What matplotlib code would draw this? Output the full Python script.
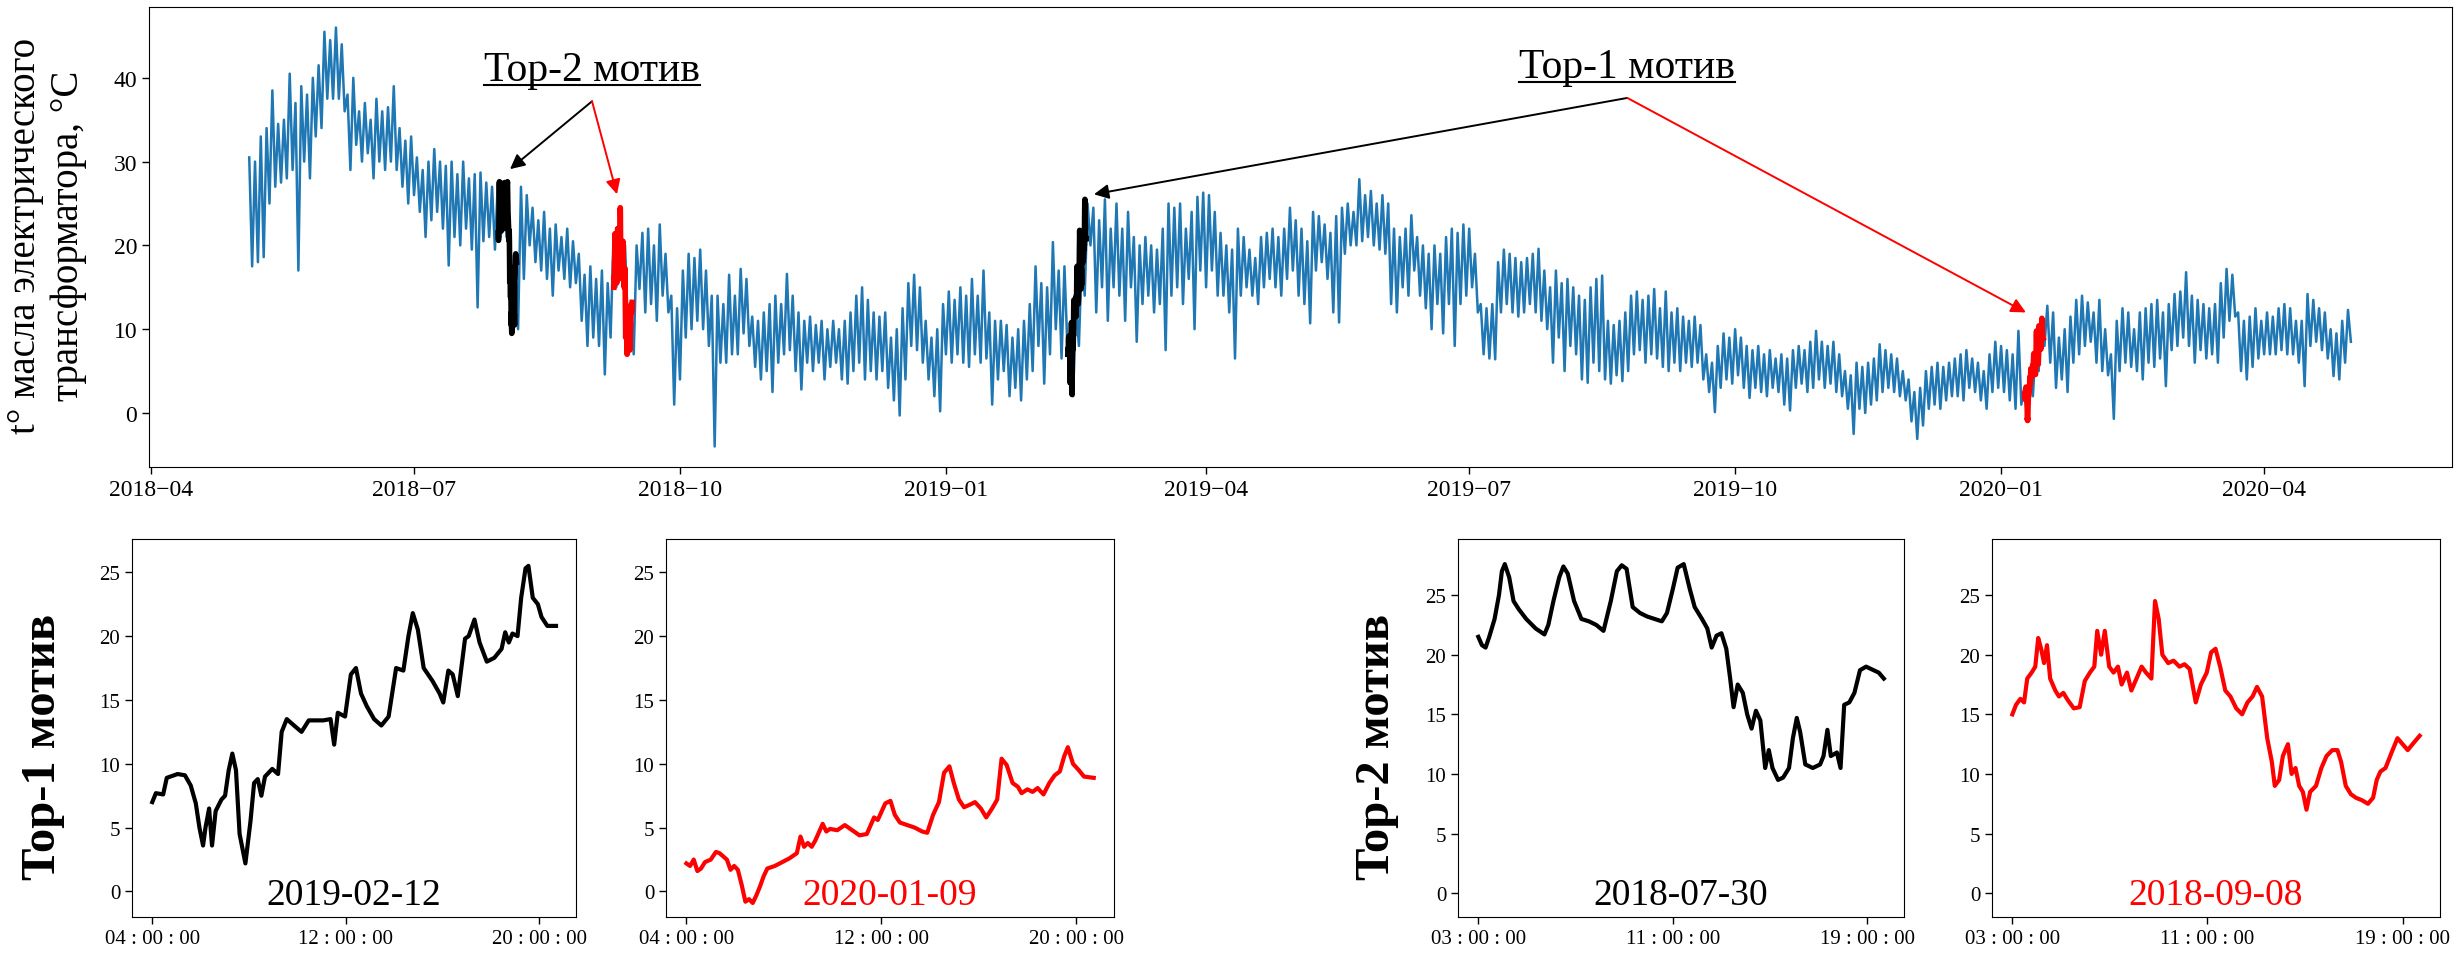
import numpy as np
import pandas as pd
import matplotlib
matplotlib.use("Agg")
import matplotlib.pyplot as plt
import matplotlib.dates as mdates
from matplotlib.ticker import FuncFormatter
from matplotlib.lines import Line2D
from matplotlib.transforms import IdentityTransform

plt.rcParams["font.family"] = ["Liberation Serif", "DejaVu Serif"]

# main series: 2-day bins starting 2018-05-05, upper and lower envelope
series_start = pd.Timestamp("2018-05-05")
bin_days = 2
temp_hi = [
    30.5, 30, 33, 34, 38.5, 34.5, 35, 40.5, 37, 39,
    38, 40, 41.5, 45.5, 44.5, 46, 44, 38, 40, 36,
    37, 35, 37.5, 36, 36.5, 39, 34, 32.5, 33, 30.5,
    29, 30, 31.5, 30, 29.5, 30, 28.5, 30, 28, 28.5,
    28.7, 27.5, 27, 27.5, 27.5, 22, 19, 27, 26, 24.5,
    23, 24, 22, 22.5, 21, 22, 20.5, 19, 16.5, 17.5,
    16, 17, 15.5, 21, 22, 20, 13, 20, 21.5, 22,
    20, 22.5, 19, 14, 12.5, 17, 19, 18.5, 19.5, 17,
    14, 14, 13, 16.5, 14, 17.2, 16, 11.5, 11, 12,
    13, 14, 13, 16.6, 14, 12, 11, 11.5, 10.5, 11,
    10, 11, 10, 11, 12, 14, 15, 13.5, 12, 11.5,
    12, 9, 10, 12.5, 15.5, 16.5, 15, 11, 9, 10,
    13, 14.5, 13.5, 15, 14, 16, 14, 17, 12, 11,
    11, 10.5, 9, 10, 11, 13, 17.5, 15.5, 15, 20.4,
    17, 17.5, 7, 13, 19, 25, 24.5, 23, 25.5, 22,
    25, 22, 24, 21, 20, 21, 20, 19.5, 22, 25,
    24.5, 25, 22, 24, 25.8, 26.3, 26, 24, 21.5, 20,
    19.5, 22, 21, 19.5, 18.5, 21, 21.5, 22, 21, 22,
    24.5, 23, 22, 20.5, 24, 23.5, 22.5, 21.5, 23.5, 24.5,
    25, 24, 27.9, 26, 26.5, 25, 26, 25, 22, 21,
    22, 23.6, 21, 20, 19, 20, 19, 21, 22, 21.5,
    22.5, 22, 19, 13, 12.5, 13, 18, 19.5, 19, 18.5,
    18, 18.5, 19, 19.6, 17, 15, 17, 15.5, 16, 15,
    14, 13.5, 15, 16, 16.4, 11, 10.5, 11, 12, 14,
    14.5, 13.5, 14, 14.8, 12.5, 14.5, 12, 12.5, 11.5, 11,
    11.5, 10.5, 7, 6, 8, 9.5, 9, 10, 9, 8,
    7.5, 8, 7, 7.5, 6.5, 7, 6.5, 7.5, 8, 7.5,
    8.5, 9.8, 8.5, 8, 8.5, 7, 5, 4.5, 6, 5.5,
    6, 6.5, 8.2, 7.5, 7, 6.5, 5, 4, 2.5, 3,
    5, 5.5, 6, 5.5, 6, 6.5, 7, 7.5, 6.5, 6,
    5, 7, 8.5, 8, 7.5, 7, 9.8, 3, 5, 8,
    11, 12.8, 12, 9, 10, 11.5, 13.5, 14, 13.2, 12,
    13.5, 10, 7, 11, 12.5, 12, 10, 12, 12.5, 13,
    13.5, 12, 13, 14.2, 14.5, 16.8, 14, 13.5, 13, 12.5,
    13, 15.5, 17.2, 16.5, 12, 11, 11.5, 12.5, 11, 12,
    11.5, 12.5, 13, 12.5, 11, 11, 14.2, 13.5, 12.5, 12,
    10, 9.5, 11, 12.3,
]
temp_lo = [
    17.5, 18, 18.6, 25, 27, 27.5, 28, 29, 17, 30,
    28, 33, 34, 37.5, 37.5, 37.5, 36, 29, 32, 30,
    31, 28, 30, 29, 30, 29, 27, 25, 26, 24,
    21, 23, 24, 22, 17.6, 21, 20, 22, 19.5, 12.6,
    20.5, 21, 19.5, 21, 21, 10, 10, 16, 20, 18,
    17, 16, 14, 17, 16, 15, 15.5, 11, 8, 9,
    8, 4.6, 9, 15, 17, 10, 7, 14.8, 12, 13,
    11, 14, 12, 1.0, 4, 9, 10, 11, 10, 8,
    -4.0, 6, 6, 7, 7, 9.5, 8, 5.5, 4, 5,
    2.5, 6, 7, 7.5, 5, 2.8, 6, 5, 6, 4,
    5.5, 6, 4, 3.5, 5, 6, 4, 5, 4, 5,
    3, 1.5, -0.3, 4, 8, 7.5, 6, 4, 2, 0.2,
    7, 6, 7, 6, 5.5, 7, 6, 6.5, 1.0, 4,
    5, 2, 3, 1.5, 4, 5, 8, 3.5, 7, 10,
    6.5, 8, 2, 8, 14, 20, 12, 15, 11, 15,
    14, 11, 15, 8.5, 13, 14, 12, 13, 7.5, 14,
    15, 13, 16, 10, 17, 15, 17, 14, 14, 12,
    6.5, 14, 15, 14, 13, 15, 16, 15, 14, 16,
    17, 14, 13, 10.7, 17, 18, 16, 12, 10.8, 19,
    20, 20, 20.5, 21, 20, 19.5, 19, 13, 12, 15,
    14, 17, 14, 12.5, 10, 13, 9.5, 13, 8, 13,
    14, 15, 12, 7, 6.5, 6.4, 12, 13, 12, 11.5,
    12, 13, 12, 11, 10, 6, 9, 5, 8, 7,
    4, 3.6, 6, 5, 4, 3.5, 4.5, 3.8, 5, 7,
    7.5, 6, 7, 6.5, 5.5, 5, 6, 5, 6, 5.5,
    6, 4, 2.5, 0.1, 3, 4, 3.5, 4.5, 3, 1.8,
    3, 2.5, 2, 3, 2.5, 1.0, 0.3, 3, 3.5, 2.5,
    3, 4, 3, 3.5, 2.5, 2, 0.5, -2.5, 0.5, 0,
    1, 1.5, 2.5, 3, 2.5, 2, 1.5, -1, -3.1, -1.5,
    0.5, 1, 0.5, 1.5, 2, 2, 1.5, 3, 2.5, 1.5,
    0.5, 2.5, 3, 2.5, 1.5, 0.5, 1, -0.5, 2, 5,
    8, 6, 3, 4, 2.5, 6, 7, 8, 8.5, 6,
    5, 4.5, -0.7, 5, 6, 5.5, 5, 4, 6, 5.5,
    6.5, 3.2, 7.5, 8, 9, 8, 6, 7.5, 6.5, 7,
    6, 9, 11, 11.5, 5, 4, 5.5, 6.5, 7, 7,
    7, 7.5, 7, 7, 6, 3.2, 8, 8.5, 7.5, 6.5,
    4.4, 4, 6, 8.5,
]

# motifs (subplot clock hours and values)
top1_a_date = "2019-02-12"
top1_a_hours = [4.00, 4.15, 4.45, 4.60, 5.05, 5.35, 5.59, 5.80, 5.95, 6.10, 6.20, 6.35, 6.47, 6.62, 6.86,
                7.01, 7.16, 7.31, 7.46, 7.61, 7.85, 8.06, 8.21, 8.36, 8.51, 8.66, 8.96, 9.20, 9.35, 9.56,
                9.86, 10.17, 10.47, 11.07, 11.37, 11.52, 11.67, 11.97, 12.21, 12.42, 12.63, 12.87, 13.17,
                13.47, 13.77, 14.08, 14.38, 14.59, 14.77, 14.98, 15.22, 15.58, 15.88, 16.03, 16.24, 16.42,
                16.63, 16.93, 17.08, 17.32, 17.53, 17.83, 18.14, 18.44, 18.59, 18.74, 18.89, 19.10, 19.25,
                19.43, 19.55, 19.73, 19.94, 20.09, 20.33, 20.69]
top1_a_vals = [7.0, 7.7, 7.6, 8.9, 9.2, 9.1, 8.3, 6.9, 5.0, 3.6, 5.0, 6.5, 3.6, 6.3, 7.2,
               7.5, 9.5, 10.8, 9.5, 4.5, 2.2, 5.5, 8.5, 8.8, 7.5, 9.0, 9.6, 9.2, 12.5, 13.5,
               13.0, 12.5, 13.4, 13.4, 13.5, 11.5, 14.0, 13.7, 17.0, 17.5, 15.5, 14.5, 13.5,
               13.0, 13.7, 17.5, 17.3, 20.0, 21.8, 20.5, 17.5, 16.5, 15.5, 14.8, 17.3, 17.0,
               15.3, 19.8, 20.0, 21.3, 19.5, 18.0, 18.3, 19.0, 20.3, 19.5, 20.2, 20.0, 23.0,
               25.3, 25.5, 23.0, 22.5, 21.5, 20.8, 20.8]

top1_b_date = "2020-01-09"
top1_b_hours = [4.00, 4.15, 4.30, 4.45, 4.60, 4.76, 5.00, 5.21, 5.36, 5.66, 5.81, 5.96, 6.11, 6.27, 6.42,
                6.57, 6.72, 6.87, 7.02, 7.17, 7.32, 7.63, 7.93, 8.23, 8.53, 8.68, 8.83, 8.98, 9.14, 9.29,
                9.59, 9.74, 9.89, 10.19, 10.50, 10.80, 11.10, 11.40, 11.70, 11.85, 12.16, 12.37, 12.55,
                12.76, 13.06, 13.37, 13.67, 13.88, 14.12, 14.36, 14.57, 14.79, 14.97, 15.18, 15.39, 15.63,
                15.84, 16.08, 16.30, 16.54, 16.75, 16.93, 17.14, 17.38, 17.60, 17.75, 17.99, 18.20, 18.41,
                18.65, 18.89, 19.11, 19.32, 19.50, 19.65, 19.86, 20.10, 20.31, 20.71]
top1_b_vals = [2.2, 2.0, 2.5, 1.6, 1.8, 2.3, 2.5, 3.1, 3.0, 2.5, 1.7, 2.0, 1.7, 0.5, -0.8,
               -0.6, -0.9, -0.3, 0.4, 1.2, 1.8, 2.0, 2.3, 2.6, 3.0, 4.3, 3.5, 3.8, 3.5, 4.0,
               5.3, 4.7, 4.9, 4.8, 5.2, 4.8, 4.4, 4.5, 5.8, 5.6, 6.9, 7.1, 6.0,
               5.4, 5.2, 5.0, 4.7, 4.6, 6.0, 7.0, 9.3, 9.8, 8.5, 7.2, 6.6, 6.8,
               7.0, 6.5, 5.8, 6.5, 7.2, 10.4, 9.9, 8.5, 8.2, 7.7, 8.0, 7.8, 8.1,
               7.6, 8.5, 9.1, 9.4, 10.6, 11.3, 10.0, 9.5, 9.0, 8.9]

top2_a_date = "2018-07-30"
top2_a_hours = [3.00, 3.15, 3.30, 3.45, 3.67, 3.85, 3.97, 4.09, 4.27, 4.45, 4.67, 4.97, 5.36, 5.72, 5.88,
                6.09, 6.33, 6.50, 6.68, 6.94, 7.24, 7.55, 7.85, 8.15, 8.45, 8.70, 8.90, 9.10, 9.35, 9.65,
                9.95, 10.25, 10.55, 10.76, 11.00, 11.20, 11.45, 11.70, 11.90, 12.20, 12.42, 12.60, 12.80,
                13.00, 13.20, 13.36, 13.50, 13.67, 13.88, 14.06, 14.24, 14.42, 14.60, 14.80, 14.95, 15.10,
                15.33, 15.54, 15.78, 15.94, 16.10, 16.24, 16.45, 16.76, 17.06, 17.20, 17.36, 17.50, 17.75,
                17.90, 18.05, 18.26, 18.47, 18.70, 18.95, 19.26, 19.47, 19.68]
top2_a_vals = [21.5, 20.8, 20.6, 21.5, 23.0, 25.0, 27.0, 27.6, 26.5, 24.5, 23.8, 23.0, 22.2, 21.7, 22.5,
               24.5, 26.5, 27.4, 26.8, 24.5, 23.0, 22.8, 22.5, 22.0, 24.5, 27.0, 27.5, 27.2, 24.0, 23.5,
               23.2, 23.0, 22.8, 23.5, 25.5, 27.3, 27.6, 25.5, 24.0, 23.0, 22.2, 20.6, 21.6,
               21.8, 20.5, 18.0, 15.6, 17.5, 16.8, 15.0, 13.8, 15.3, 14.5, 10.5, 12.0, 10.5,
               9.5, 9.7, 10.5, 13.0, 14.7, 13.5, 10.8, 10.5, 10.8, 11.5, 13.7, 11.5, 11.8,
               10.5, 15.8, 16.0, 16.8, 18.7, 19.0, 18.7, 18.5, 18.0]

top2_b_date = "2018-09-08"
top2_b_hours = [3.00, 3.15, 3.33, 3.48, 3.61, 3.79, 3.94, 4.06, 4.18, 4.30, 4.42, 4.55, 4.76, 4.91, 5.09,
                5.27, 5.52, 5.76, 5.97, 6.18, 6.36, 6.48, 6.64, 6.79, 6.97, 7.15, 7.33, 7.48, 7.70, 7.88,
                8.09, 8.30, 8.48, 8.70, 8.85, 9.00, 9.15, 9.39, 9.61, 9.85, 10.06, 10.27, 10.52, 10.73,
                10.97, 11.15, 11.33, 11.52, 11.73, 11.94, 12.18, 12.42, 12.64, 12.85, 13.03, 13.24, 13.45,
                13.64, 13.76, 13.94, 14.09, 14.30, 14.45, 14.61, 14.76, 14.91, 15.06, 15.21, 15.45, 15.67,
                15.88, 16.12, 16.33, 16.48, 16.67, 16.88, 17.09, 17.33, 17.58, 17.79, 17.94, 18.09, 18.30,
                18.55, 18.79, 19.00, 19.21, 19.45, 19.70]
top2_b_vals = [15.0, 15.8, 16.3, 16.0, 18.0, 18.5, 19.0, 21.4, 20.5, 19.3, 20.8, 18.0, 17.0, 16.5, 16.8,
               16.2, 15.5, 15.6, 17.8, 18.5, 19.0, 22.0, 20.0, 22.0, 19.0, 18.5, 19.0, 17.5, 18.5, 17.0,
               18.0, 19.0, 18.5, 18.0, 24.5, 23.0, 20.0, 19.3, 19.5, 19.0, 19.2, 18.8, 16.0, 17.5,
               18.5, 20.2, 20.5, 19.0, 17.0, 16.5, 15.5, 15.0, 16.0, 16.5, 17.3, 16.5, 13.0,
               11.0, 9.0, 9.5, 11.5, 12.5, 10.0, 10.5, 9.0, 8.5, 7.0, 8.5, 9.0, 10.5,
               11.5, 12.0, 12.0, 11.0, 9.0, 8.3, 8.0, 7.8, 7.5, 8.0, 9.5, 10.2, 10.5,
               11.8, 13.0, 12.5, 12.0, 12.6, 13.2]

top1_ticks = [4, 12, 20]
top2_ticks = [3, 11, 19]
main_yticks = [0, 10, 20, 30, 40]
sub_yticks = [0, 5, 10, 15, 20, 25]

# how wide a motif is drawn on the long time axis (days per subplot hour)
motif_day_scale = 0.38


def motif_dates(date, hours):
    h = np.asarray(hours)
    off = h[0] / 24.0 + (h - h[0]) * motif_day_scale
    return pd.Timestamp(date) + pd.to_timedelta(off, unit="D")


fig = plt.figure(figsize=(24.55, 9.54), dpi=100)

# ---- top panel ----
ax = fig.add_axes([0.0607, 0.5094, 0.9381, 0.4822])
n = len(temp_hi)
k = np.arange(n)
hi_x = series_start + pd.to_timedelta(k * bin_days, unit="D")
lo_x = series_start + pd.to_timedelta(k * bin_days + 1, unit="D")
xs = np.empty(2 * n, dtype=object)
ys = np.empty(2 * n)
xs[0::2] = list(hi_x)
xs[1::2] = list(lo_x)
ys[0::2] = temp_hi
ys[1::2] = temp_lo
ax.plot(list(xs), ys, color="#1f77b4", lw=1.8)

ax.plot(motif_dates(top2_a_date, top2_a_hours), top2_a_vals, color="black", lw=4)
ax.plot(motif_dates(top2_b_date, top2_b_hours), top2_b_vals, color="red", lw=4)
ax.plot(motif_dates(top1_a_date, top1_a_hours), top1_a_vals, color="black", lw=4)
ax.plot(motif_dates(top1_b_date, top1_b_hours), top1_b_vals, color="red", lw=4)

ax.set_xlim(pd.Timestamp("2018-03-31 08:00"), pd.Timestamp("2020-06-05"))
ax.set_ylim(-6.45, 48.45)
ax.xaxis.set_major_locator(mdates.MonthLocator(bymonth=[1, 4, 7, 10]))
ax.xaxis.set_major_formatter(mdates.DateFormatter("%Y\u2212%m"))
ax.set_yticks(main_yticks)
ax.tick_params(labelsize=17, length=5, width=1)

# annotations
labels = [
    ("Top-2 мотив", pd.Timestamp("2018-08-31 14:00"), 39.7,
     (pd.Timestamp("2018-08-31 14:00"), 37.2),
     [(pd.Timestamp("2018-08-03 05:00"), 29.1, "black"),
      (pd.Timestamp("2018-09-09 05:00"), 26.1, "red")]),
    ("Top-1 мотив", pd.Timestamp("2019-08-24 17:00"), 40.1,
     (pd.Timestamp("2019-08-24 17:00"), 37.6),
     [(pd.Timestamp("2019-02-21 05:00"), 26.1, "black"),
      (pd.Timestamp("2020-01-09 14:00"), 12.0, "red")]),
]
texts = []
for txt, tx, ty, orig, tips in labels:
    t = ax.text(tx, ty, txt, ha="center", va="baseline", fontsize=30)
    texts.append((t, tx, ty))
    for px, py, c in tips:
        ax.annotate("", xy=(px, py), xytext=orig,
                    arrowprops=dict(arrowstyle="-|>", color=c, lw=1.4,
                                    mutation_scale=22, shrinkA=0, shrinkB=0))

fig.text(0.0192, 0.7526, "t° масла электрического\nтрансформатора, °C",
         rotation=90, ha="center", va="center", multialignment="center",
         fontsize=28)

# ---- bottom panels ----
subs = [
    ([0.0538, 0.0377, 0.1809, 0.3962], top1_a_hours, top1_a_vals, "black", top1_a_date, top1_ticks, (-2, 27.6)),
    ([0.2713, 0.0377, 0.1825, 0.3962], top1_b_hours, top1_b_vals, "red", top1_b_date, top1_ticks, (-2, 27.6)),
    ([0.5939, 0.0377, 0.1817, 0.3962], top2_a_hours, top2_a_vals, "black", top2_a_date, top2_ticks, (-2, 29.7)),
    ([0.8114, 0.0377, 0.1825, 0.3962], top2_b_hours, top2_b_vals, "red", top2_b_date, top2_ticks, (-2, 29.7)),
]
for rect, hrs, vals, c, d, ticks, ylim in subs:
    sa = fig.add_axes(rect)
    sa.plot(hrs, vals, color=c, lw=3)
    sa.set_ylim(*ylim)
    sa.set_yticks(sub_yticks)
    sa.set_xticks(ticks)
    sa.xaxis.set_major_formatter(FuncFormatter(lambda h, _: "%02d : 00 : 00" % int(round(h))))
    sa.tick_params(labelsize=15, length=5, width=1)
    sa.text(0.5, 0.035, d, transform=sa.transAxes, ha="center", va="baseline",
            fontsize=27, color=c)

fig.text(0.0175, 0.217, "Top-1 мотив", rotation=90, ha="center", va="center",
         fontsize=35, fontweight="bold")
fig.text(0.561, 0.217, "Top-2 мотив", rotation=90, ha="center", va="center",
         fontsize=35, fontweight="bold")

# underline the annotation titles
fig.canvas.draw()
r = fig.canvas.get_renderer()
for t, tx, ty in texts:
    bb = t.get_window_extent(renderer=r)
    base = ax.transData.transform((mdates.date2num(tx), ty))[1]
    fig.add_artist(Line2D([bb.x0, bb.x1], [base - 5, base - 5], color="black",
                          lw=1.5, transform=IdentityTransform()))

fig.savefig("out.png", dpi=100)
